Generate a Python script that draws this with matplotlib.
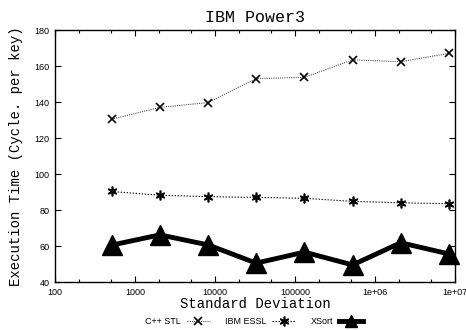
import matplotlib
matplotlib.use('Agg')
import matplotlib.pyplot as plt
from matplotlib.lines import Line2D
from matplotlib.ticker import LogLocator, NullFormatter, FixedLocator, FixedFormatter

# data
std_dev = [512, 2048, 8192, 32768, 131072, 524288, 2097152, 8388608]
cpp_stl = [130.5, 137.0, 139.7, 153.0, 153.7, 163.4, 162.4, 167.0]
ibm_essl = [90.3, 88.2, 87.4, 87.0, 86.5, 84.8, 84.0, 83.5]
xsort = [60.5, 66.2, 60.6, 50.5, 56.6, 49.5, 61.8, 55.6]

xtick_vals = [100, 1000, 10000, 100000, 1e6, 1e7]
xtick_labels = ['100', '1000', '10000', '100000', '1e+06', '1e+07']
ytick_vals = [40, 60, 80, 100, 120, 140, 160, 180]
names = ['C++ STL', 'IBM ESSL', 'XSort']

mono = 'Liberation Mono'
sans = 'Liberation Sans'

fig = plt.figure(figsize=(4.66, 3.30), dpi=100)
ax = fig.add_axes([55/466, (330-282)/330, 400/466, 252/330])

stl_style = dict(color='#555555', lw=0.8, ls=(0, (1, 1)), marker='x', mew=1.2, mec='black')
essl_style = dict(color='black', lw=0.8, ls=(0, (1.2, 1.5)), marker=(6, 2, 0), mew=1.2, mec='black')
xs_style = dict(color='black', lw=3.5, ls='-', marker='^', mfc='black', mec='black')

ax.plot(std_dev, cpp_stl, ms=6, **stl_style)
ax.plot(std_dev, ibm_essl, ms=7, **essl_style)
ax.plot(std_dev, xsort, ms=14, clip_on=False, **xs_style)

ax.set_xscale('log')
ax.set_xlim(100, 1e7)
ax.set_ylim(40, 180)
ax.xaxis.set_major_locator(FixedLocator(xtick_vals))
ax.xaxis.set_major_formatter(FixedFormatter(xtick_labels))
ax.xaxis.set_minor_locator(LogLocator(base=10, subs=[2, 5]))
ax.xaxis.set_minor_formatter(NullFormatter())
ax.set_yticks(ytick_vals)
ax.tick_params(which='both', direction='in', top=True, right=True, labelsize=6.5, pad=4)
ax.tick_params(which='major', length=4, width=0.8)
ax.tick_params(which='minor', length=2.5, width=0.8)
for lab in ax.get_xticklabels() + ax.get_yticklabels():
    lab.set_fontfamily(sans)
for s in ax.spines.values():
    s.set_linewidth(1.0)

ax.set_title('IBM Power3', fontfamily=mono, fontsize=12, pad=6)
ax.set_xlabel('Standard Deviation', fontfamily=mono, fontsize=10, labelpad=0)
ax.set_ylabel('Execution Time (Cycle. per key)', fontfamily=mono, fontsize=10, labelpad=8)

# legend samples (smaller markers, as in the key)
handles = [Line2D([], [], ms=6, **stl_style),
           Line2D([], [], ms=7, **essl_style),
           Line2D([], [], ms=9, **xs_style)]
fig.legend(handles, names, loc='center',
           bbox_to_anchor=(254/466, (330-322)/330), ncol=3, frameon=False,
           markerfirst=False, handlelength=2.6, columnspacing=1.7, handletextpad=0.6,
           prop={'family': sans, 'size': 6.5})

fig.savefig('out.png', dpi=100)
